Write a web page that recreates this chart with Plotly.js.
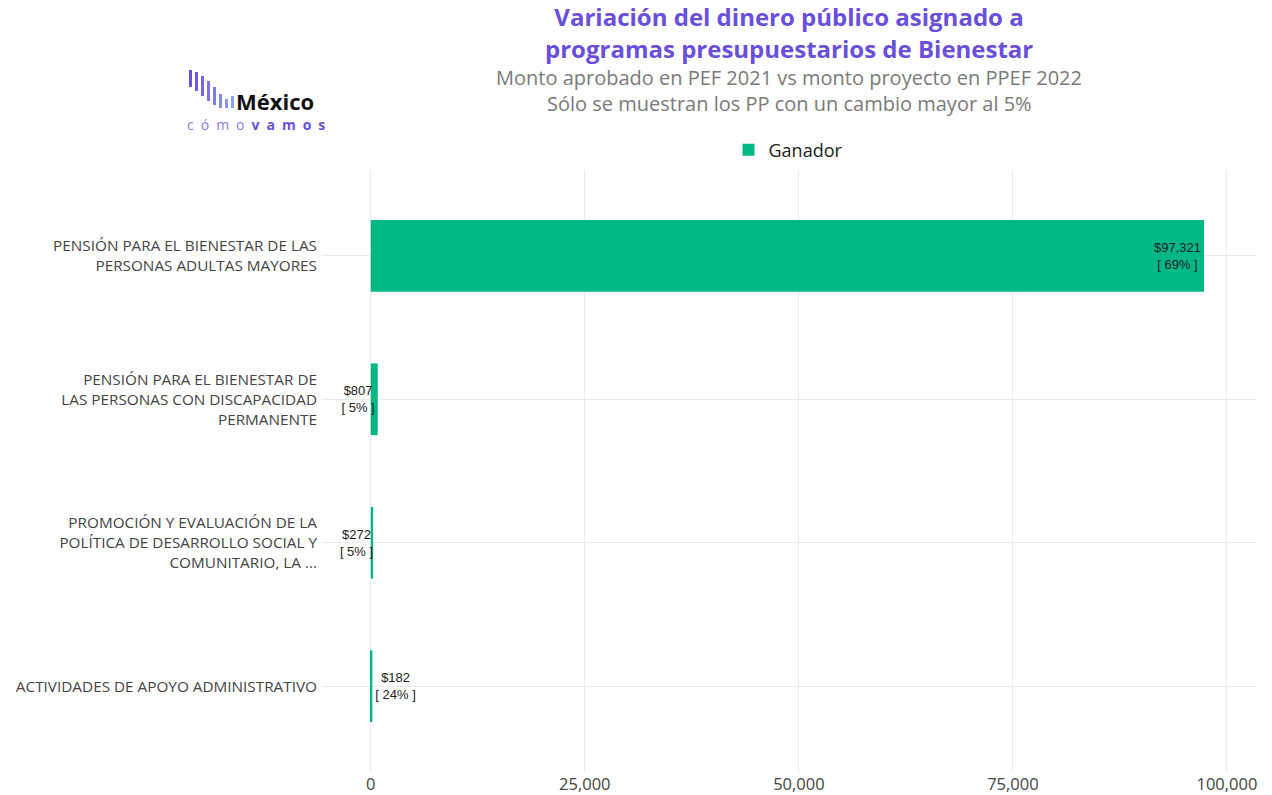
<!DOCTYPE html>
<html>
<head>
<meta charset="utf-8">
<script src="https://cdn.plot.ly/plotly-3.0.1.min.js"></script>
<style>html,body{margin:0;padding:0;background:#fff;}#chart{width:1272px;height:795px;}</style>
</head>
<body>
<div id="chart"></div>
<script>
// Data (top to bottom)
const categories = [
  'PENSIÓN PARA EL BIENESTAR DE LAS<br>PERSONAS ADULTAS MAYORES',
  'PENSIÓN PARA EL BIENESTAR DE<br>LAS PERSONAS CON DISCAPACIDAD<br>PERMANENTE',
  'PROMOCIÓN Y EVALUACIÓN DE LA<br>POLÍTICA DE DESARROLLO SOCIAL Y<br>COMUNITARIO, LA ...',
  'ACTIVIDADES DE APOYO ADMINISTRATIVO'
];
const values = [97321, 807, 272, 182];
const percents = [69, 5, 5, 24];
const textPositions = ['inside', 'inside', 'inside', 'outside'];
const seriesName = 'Ganador';
const xTickVals = [0, 25000, 50000, 75000, 100000];

const W = 1272, H = 795;
const M = {l: 322, r: 16, t: 170, b: 23};
const PW = W - M.l - M.r, PH = H - M.t - M.b;
const px = x => (x - M.l) / PW;
const py = y => (H - M.b - y) / PH;

const labels = values.map((v, i) => '$' + v.toLocaleString('en-US') + '<br>[ ' + percents[i] + '% ]');

const trace = {
  type: 'bar', orientation: 'h', name: seriesName,
  x: values, y: categories, width: 0.5,
  marker: {color: '#00b884'},
  text: labels, textposition: textPositions, textangle: 0,
  insidetextanchor: 'end', constraintext: 'none', cliponaxis: false,
  textfont: {family: 'Liberation Sans, Arial', size: 13, color: '#222'},
  showlegend: true, hoverinfo: 'x+y'
};

// logo bars
const logoBars = [[189,70,87],[195,72,91],[201,76,96],[207,81,101],[213,87,105],[219,94,108],[225,99,108],[231,96,108]];
const logoColors = ['#6a4fdc','#6f5be0','#7466e3','#7a72e6','#7f7de9','#8589ec','#8a95ef','#8fa1f2'];
const shapes = logoBars.map((b, i) => ({
  type: 'rect', xref: 'paper', yref: 'paper', layer: 'above',
  x0: px(b[0]), x1: px(b[0] + 3), y0: py(b[2]), y1: py(b[1]),
  fillcolor: logoColors[i], line: {width: 0}
}));

const titleFont = {family: 'Open Sans, sans-serif', size: 24, color: '#6a4fdc'};
const subFont = {family: 'Open Sans, sans-serif', size: 20, color: '#7a7a7a'};

const layout = {
  width: W, height: H, margin: M,
  paper_bgcolor: '#fff', plot_bgcolor: '#fff',
  font: {family: 'Open Sans, sans-serif', color: '#444'},
  title: {
    text: '<b>Variación del dinero público asignado a</b>',
    font: titleFont,
    xref: 'paper', x: 0.5, xanchor: 'center',
    yref: 'container', y: 1 - 17.5 / H, yanchor: 'middle'
  },
  xaxis: {
    range: [-5700, 103400], tickvals: xTickVals, tickformat: ',d',
    showgrid: true, gridcolor: '#ebebeb', zeroline: false,
    showline: false, ticks: '',
    tickfont: {family: 'Open Sans, sans-serif', size: 16.5, color: '#444'}
  },
  yaxis: {
    categoryorder: 'array', categoryarray: categories,
    range: [3.598, -0.598], showgrid: true, gridcolor: '#ebebeb',
    zeroline: false, ticks: '', ticklabelstandoff: 4,
    tickfont: {family: 'Open Sans, sans-serif', size: 15.3, color: '#444'}
  },
  legend: {
    orientation: 'h', x: px(788), xanchor: 'center', y: py(150), yanchor: 'middle',
    font: {family: 'Open Sans, sans-serif', size: 18, color: '#222'}
  },
  shapes: shapes,
  annotations: [
    {
      text: '<b>programas presupuestarios de Bienestar</b>',
      xref: 'paper', yref: 'paper', x: 0.5, y: py(48.5), xanchor: 'center', yanchor: 'middle',
      showarrow: false, font: titleFont
    },
    {
      text: 'Monto aprobado en PEF 2021 vs monto proyecto en PPEF 2022',
      xref: 'paper', yref: 'paper', x: 0.5, y: py(77.5), xanchor: 'center', yanchor: 'middle',
      showarrow: false, font: subFont
    },
    {
      text: 'Sólo se muestran los PP con un cambio mayor al 5%',
      xref: 'paper', yref: 'paper', x: 0.5, y: py(103.5), xanchor: 'center', yanchor: 'middle',
      showarrow: false, font: subFont
    },
    {
      text: '<b>México</b>', xref: 'paper', yref: 'paper', x: px(234), y: py(101),
      xanchor: 'left', yanchor: 'middle', showarrow: false,
      font: {family: 'Open Sans, sans-serif', size: 22, color: '#111'}
    },
    {
      text: '<span style="color:#8a7de8">c\u2002ó\u2002m\u2002o\u2002</span><b>v\u2002a\u2002m\u2002o\u2002s</b>', xref: 'paper', yref: 'paper',
      x: px(185), y: py(124.5), xanchor: 'left', yanchor: 'middle', showarrow: false,
      font: {family: 'Open Sans, sans-serif', size: 14, color: '#6a4fdc'}
    }
  ]
};

Plotly.newPlot('chart', [trace], layout, {displayModeBar: false});
</script>
</body>
</html>
